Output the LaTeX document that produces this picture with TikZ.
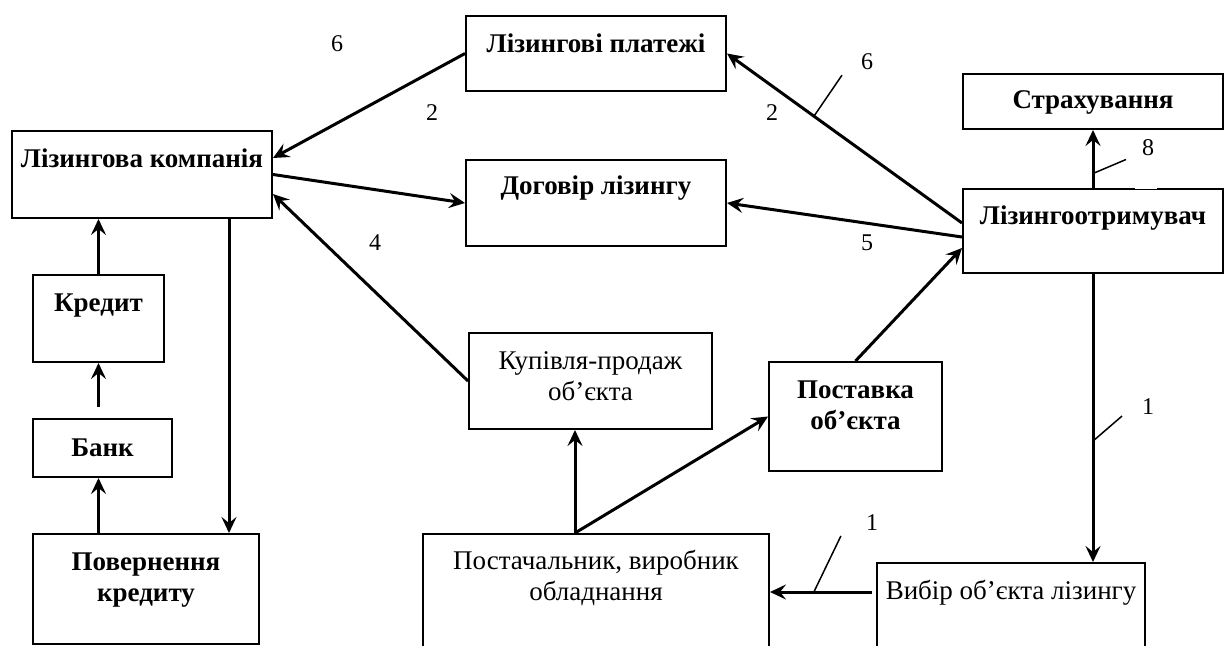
\documentclass[tikz,border=0pt]{standalone}
\usepackage{fontspec}
\setmainfont{Liberation Serif}
\usepackage{tikz}
\usetikzlibrary{arrows.meta,positioning,calc}
\tikzset{>={Stealth[length=8pt,width=7.5pt,inset=3pt]}}
\tikzset{box/.style={draw, line width=1pt, inner sep=0pt, align=center, anchor=north west, font=\fontsize{13.5}{15.5}\selectfont\bfseries},
  thinbox/.style={box, font=\fontsize{13.5}{15.5}\selectfont},
  arr/.style={line width=1.5pt,->},
  tickline/.style={line width=0.75pt},
  numlabel/.style={font=\fontsize{12}{12}\selectfont}}

\begin{document}
\begin{tikzpicture}[x=0.5pt,y=-0.5pt]
\useasboundingbox (0,0) rectangle (1229,646);
\clip (0,0) rectangle (1229,646);
%%%%%%%%%% left column
\node[box, minimum width=130pt, text height=18.5pt, text depth=25pt] (lk) at (11,130) {Лізингова компанія};
\node[box, minimum width=65.5pt, text height=18pt, text depth=25.5pt] (kr) at (32,274) {Кредит};
\node[box, minimum width=69.5pt, text height=18.5pt, text depth=10.5pt] (bank) at (32,418) {Банк};
\node[box, minimum width=113pt, text height=33.5pt, text depth=21.5pt] (pk) at (32,533) {Повернення\\кредиту};
%%%%%%%%%% middle
\node[box, minimum width=130pt, text height=18.5pt, text depth=19pt] (lp) at (465,15) {Лізингові платежі};
\node[box, minimum width=130pt, text height=17.5pt, text depth=25.5pt] (dl) at (465,159) {Договір лізингу};
\node[thinbox, minimum width=121.5pt, text height=33.5pt, text depth=14.5pt] (kp) at (468,332) {Купівля-продаж\\об’єкта};
\node[box, minimum width=86.5pt, text height=33.5pt, text depth=21pt] (ps) at (768,361) {Поставка\\об’єкта};
\node[thinbox, minimum width=173pt, text height=33pt, text depth=35.5pt] (pv) at (422,533) {Постачальник, виробник\\обладнання};
%%%%%%%%%% right column
\node[box, minimum width=130pt, text height=17.5pt, text depth=10pt] (st) at (962,73) {Страхування};
\node[box, minimum width=130pt, text height=18pt, text depth=24pt] (lo) at (962,188) {Лізингоотримувач};
\draw[white, line width=1.5pt] (1135,188) -- (1157,188);
\node[thinbox, minimum width=134pt, text height=18pt, text depth=36pt] (vb) at (876,562) {Вибір об’єкта лізингу};
%%%%%%%%%% arrows
\draw[arr] (lp.west) -- ([yshift=8.25pt]lk.east);
\draw[arr] (lk.east) -- (dl.west);
\draw[arr] (kp.west) -- ([yshift=-9.75pt]lk.east);
\draw[arr] ([yshift=4pt]lo.west) -- coordinate[pos=0.63] (t6) (lp.east);
\draw[arr] ([yshift=-3pt]lo.west) -- (dl.east);
\draw[arr] (ps.north) -- ([yshift=-8.5pt]lo.west);
\draw[arr] (lo.north) -- coordinate[pos=0.25] (t8) (st.south);
\draw[arr] (lo.south) -- coordinate[pos=0.58] (t1a) (lo.south |- vb.north);
\coordinate (vbout) at ([xshift=-2pt,yshift=3.5pt]vb.base west);
\draw[arr] (vbout) -- coordinate[pos=0.57] (t1b) (vbout -| pv.east);
\coordinate (pvout) at ([xshift=-10.5pt]pv.north);
\draw[arr] (pvout) -- (pvout |- kp.south);
\draw[arr] (pvout) -- (ps.west);
\draw[arr] (kr.north) -- (kr.north |- lk.south);
\coordinate (bk) at (kr.south |- bank.north);
\draw[arr] ([yshift=5.5pt]bk) -- (kr.south);
\draw[arr] (kr.south |- pk.north) -- (kr.south |- bank.south);
\coordinate (lkout) at ([xshift=43.5pt]lk.south);
\draw[arr] (lkout) -- (lkout |- pk.north);
%%%%%%%%%% ticks and numbers
\draw[tickline] (t6) -- ++(14pt,20.5pt);
\draw[tickline] (t8) -- ++(16.5pt,7pt);
\draw[tickline] (t1a) -- ++(14.5pt,12.5pt);
\draw[tickline] (t1b) -- ++(13.5pt,28pt);
\node[numlabel] (n6a) at (337,44) {6};
\node[numlabel] (n2a) at (432,113) {2};
\node[numlabel] (n4) at (375,243) {4};
\node[numlabel] (n6b) at (867,62) {6};
\node[numlabel] (n2b) at (772,113) {2};
\node[numlabel] (n5) at (867,243) {5};
\node[numlabel] (n8) at (1148,148) {8};
\node[numlabel] (n1a) at (1148,407) {1};
\node[numlabel] (n1b) at (872,523) {1};
\end{tikzpicture}
\end{document}
